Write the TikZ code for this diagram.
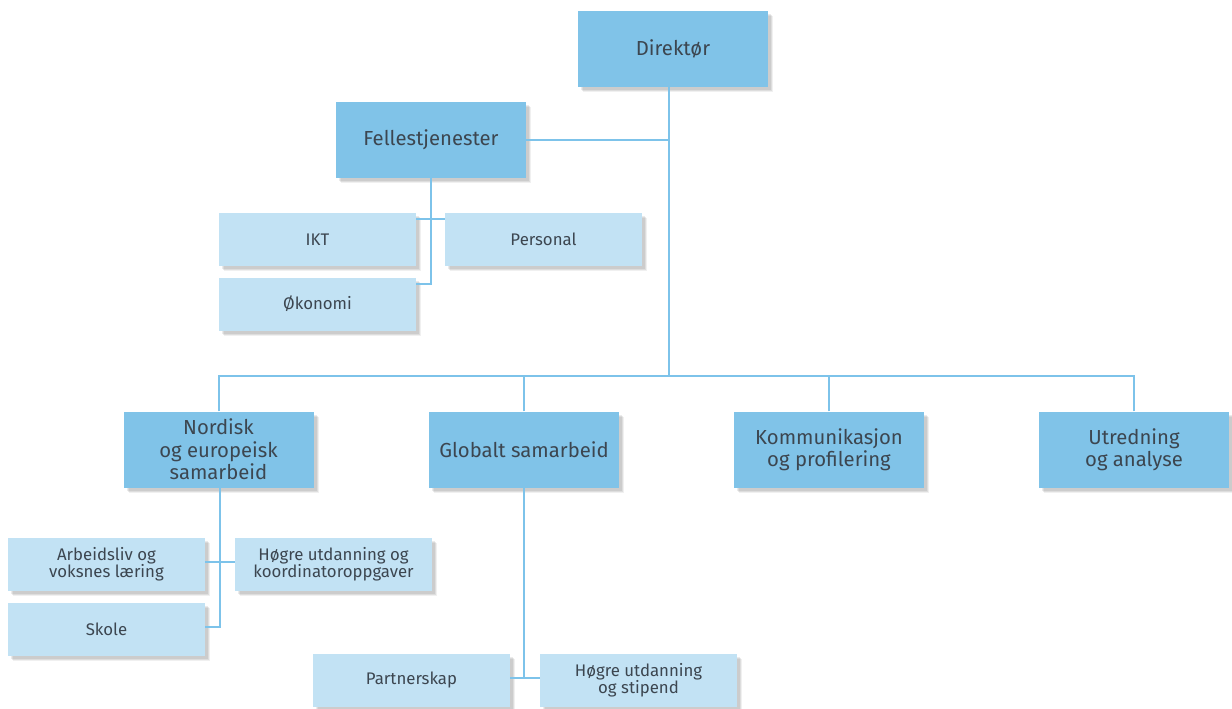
\documentclass[tikz,border=0pt]{standalone}
\usepackage{fontspec}
\setmainfont{Fira Sans}
\usetikzlibrary{shadows}
\definecolor{darkbox}{HTML}{80C3E8}
\definecolor{lightbox}{HTML}{C2E2F4}
\definecolor{linec}{HTML}{7DC3EA}
\definecolor{txt}{HTML}{3C4650}
\tikzset{
  shad/.style={
    drop shadow={shadow xshift=5pt, shadow yshift=-5pt, fill=black, opacity=0.06},
    drop shadow={shadow xshift=4pt, shadow yshift=-4pt, fill=black, opacity=0.08},
    drop shadow={shadow xshift=3pt, shadow yshift=-3pt, fill=black, opacity=0.08}},
  bigbox/.style={shad, fill=darkbox, minimum width=190pt, minimum height=76pt, inner sep=0pt, align=center, text=txt, font=\fontsize{20.3}{22.5}\selectfont},
  smallbox/.style={shad, fill=lightbox, minimum width=197pt, minimum height=53pt, inner sep=0pt, align=center, text=txt, font=\fontsize{16.8}{17.2}\selectfont},
  conn/.style={draw=linec, line width=2pt}
}
\begin{document}
\begin{tikzpicture}[x=1pt,y=-1pt]
\useasboundingbox (0,0) rectangle (1232,709);
\node[bigbox] (dir) at (673,49) {Direktør};
\node[bigbox] (fell) at (431,140) {Fellestjenester};
\node[smallbox] (ikt) at (317.5,239.5) {IKT};
\node[smallbox] (pers) at (543.5,239.5) {Personal};
\node[smallbox] (oko) at (317.5,304) {Økonomi};
\node[bigbox] (nord) at (218.5,449.5) {Nordisk\\og europeisk\\samarbeid};
\node[bigbox] (glob) at (524,449.5) {Globalt samarbeid};
\node[bigbox] (komm) at (829,449.5) {Kommunikasjon\\og profilering};
\node[bigbox] (utr) at (1134,449.5) {Utredning\\og analyse};
\node[smallbox] (arb) at (106.5,564.5) {Arbeidsliv og\\voksnes læring};
\node[smallbox] (hko) at (333.5,564.5) {Høgre utdanning og\\koordinatoroppgaver};
\node[smallbox] (sko) at (106.5,629.5) {Skole};
\node[smallbox] (part) at (411.5,680) {Partnerskap};
\node[smallbox] (hst) at (638.5,680) {Høgre utdanning\\og stipend};
% connectors
\coordinate (dirb) at (669,87);
\coordinate (bus) at (669,376);
\draw[conn] (dirb) -- (bus);
\draw[conn] (fell.east) -- (fell.east -| dirb);
\draw[conn] (nord.north) |- (bus);
\draw[conn] (utr.north) |- (bus);
\draw[conn] (glob.north) -- (glob.north |- bus);
\draw[conn] (komm.north) -- (komm.north |- bus);
% fellestjenester
\coordinate (fj) at (431,219);
\coordinate (fo) at (431,284);
\draw[conn] (fell.south -| fj) -- (fo) -- (fo -| oko.east);
\draw[conn] (fj -| ikt.east) -- (fj -| pers.west);
% nordisk
\coordinate (nj) at (220,562);
\coordinate (ns) at (220,627);
\draw[conn] (nord.south -| nj) -- (ns) -- (ns -| sko.east);
\draw[conn] (nj -| arb.east) -- (nj -| hko.west);
% globalt
\coordinate (gj) at (524,678);
\draw[conn] (glob.south) -- (gj);
\draw[conn] (gj -| part.east) -- (gj -| hst.west);
\end{tikzpicture}
\end{document}
